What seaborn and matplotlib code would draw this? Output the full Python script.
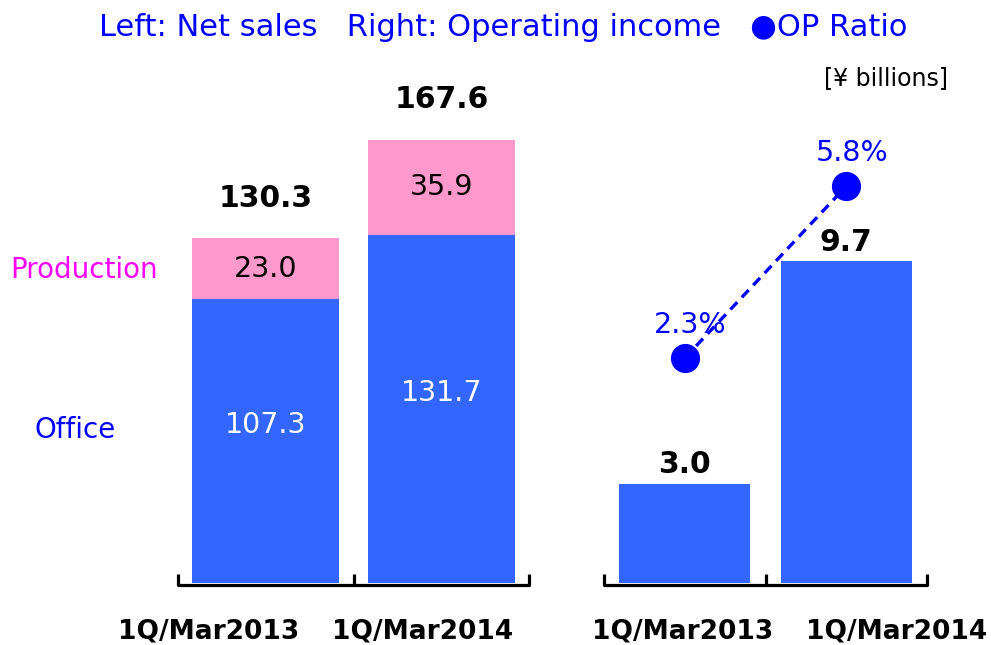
import numpy as np
import pandas as pd
import matplotlib
matplotlib.use('Agg')
import matplotlib.pyplot as plt
import seaborn as sns

# data
periods = ['1Q/Mar2013', '1Q/Mar2014']
office = [107.3, 131.7]
production = [23.0, 35.9]
net_sales = [130.3, 167.6]
op_income = [3.0, 9.7]
op_ratio = [2.3, 5.8]

blue = '#3366FF'
pink = '#FF99CC'
textblue = '#0000FF'

sns.set_style('white')
plt.rcParams['font.family'] = ['DejaVu Sans']

W, H = 991, 645
fig = plt.figure(figsize=(W / 100, H / 100), dpi=100)

def px_axes(x0, x1, ytop, ybot):
    return fig.add_axes([x0 / W, 1 - ybot / H, (x1 - x0) / W, (ybot - ytop) / H])

ax1 = px_axes(178, 529, 40, 585)
ax2 = px_axes(604, 927, 40, 585)

df = pd.DataFrame({'period': periods, 'office': office,
                   'production': production, 'total': net_sales,
                   'op': op_income, 'ratio': op_ratio})

# left: stacked net sales
sns.barplot(data=df, x='period', y='total', color=pink, width=0.84,
            saturation=1, linewidth=0, ax=ax1)
sns.barplot(data=df, x='period', y='office', color=blue, width=0.84,
            saturation=1, linewidth=0, ax=ax1)
ax1.set_ylim(-0.6, 545 / 2.648 - 0.6)

for i in range(len(periods)):
    ax1.annotate(f'{net_sales[i]:.1f}', (i, net_sales[i]), xytext=(0, 29),
                 textcoords='offset points', ha='center', va='center',
                 fontsize=21.5, fontweight='bold', color='black')
    ax1.text(i, office[i] + production[i] / 2, f'{production[i]:.1f}',
             ha='center', va='center', fontsize=20.5, color='black')
    ax1.text(i, office[i] / 2 + 6, f'{office[i]:.1f}',
             ha='center', va='center', fontsize=20.5, color='white')

# right: operating income + op ratio
sns.barplot(data=df, x='period', y='op', color=blue, width=0.81,
            saturation=1, linewidth=0, ax=ax2)
ax2.set_ylim(-0.05, 545 / 33.2 - 0.05)
for i in range(len(periods)):
    ax2.annotate(f'{op_income[i]:.1f}', (i, op_income[i]), xytext=(0, 13.5),
                 textcoords='offset points', ha='center', va='center',
                 fontsize=21.5, fontweight='bold', color='black')

ax3 = ax2.twinx()
sns.lineplot(x=[0, 1], y=op_ratio, ax=ax3, color=textblue, lw=2.4,
             dashes=False, linestyle=(0, (3, 2)), marker='o',
             markersize=21, markeredgewidth=0, markerfacecolor=textblue)
ax3.set_ylim(-114 / 49.1, (471 - 40) / 49.1)
for i in range(len(periods)):
    ax3.annotate(f'{op_ratio[i]:.1f}%', (i, op_ratio[i]), xytext=(4, 24),
                 textcoords='offset points', ha='center', va='center',
                 fontsize=20.5, color=textblue)

for ax in (ax1, ax2, ax3):
    ax.set_xlim(-0.5, 1.5)
    for s in ('left', 'right', 'top'):
        ax.spines[s].set_visible(False)
    ax.set_yticks([])
    ax.set_xlabel('')
    ax.set_ylabel('')
ax3.spines['bottom'].set_visible(False)
ax3.set_xticks([])

for ax in (ax1, ax2):
    ax.spines['bottom'].set_linewidth(2.3)
    ax.spines['bottom'].set_color('black')
    ax.spines['bottom'].set_capstyle('round')
    ax.set_xticks([-0.5, 0.5, 1.5])
    ax.set_xticklabels([])
    ax.tick_params(axis='x', direction='in', length=8, width=2.3,
                   color='black', bottom=True)

# category labels
for x, lab in zip([209, 423, 683, 897], periods * 2):
    fig.text(x / W, 1 - 632 / H, lab, ha='center', va='center',
             fontsize=19, fontweight='bold', color='black')

fig.text(10 / W, 1 - 270 / H, 'Production', ha='left', va='center',
         fontsize=20, color='#FF00FF')
fig.text(35 / W, 1 - 430 / H, 'Office', ha='left', va='center',
         fontsize=20, color=textblue)

fig.text(503 / W, 1 - 28 / H,
         'Left: Net sales   Right: Operating income   \u25CFOP Ratio',
         ha='center', va='center', fontsize=22, color=textblue)
fig.text(948 / W, 1 - 78 / H, '[\u00a5 billions]', ha='right', va='center',
         fontsize=17, color='black')

fig.savefig('out.png', dpi=100)
